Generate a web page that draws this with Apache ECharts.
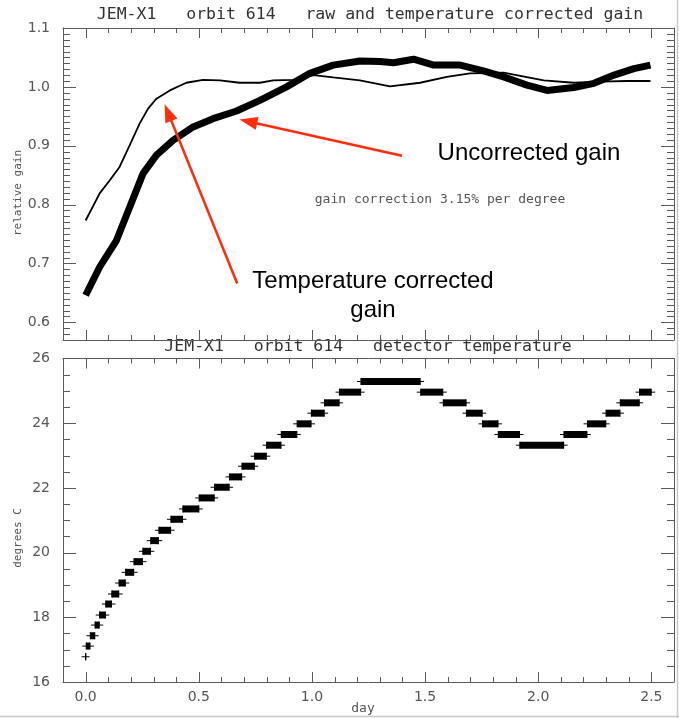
<!DOCTYPE html>
<html>
<head>
<meta charset="utf-8">
<title>JEM-X1 orbit 614</title>
<script src="https://cdn.jsdelivr.net/npm/echarts@6/dist/echarts.min.js"></script>
<style>
    html, body { margin: 0; padding: 0; background: #fff; }
    #main { width: 679px; height: 718px; }
</style>
</head>
<body>
<div id="main"></div>
<script>
// temperature corrected gain (thin line)
var corrDay  = [0.0, 0.062, 0.106, 0.150, 0.195, 0.239, 0.276, 0.313, 0.372, 0.445, 0.519, 0.593, 0.681, 0.770, 0.829, 0.917, 1.006, 1.094, 1.212, 1.345, 1.478, 1.596, 1.699, 1.847, 2.024, 2.157, 2.274, 2.392, 2.496];
var corrGain = [0.773, 0.819, 0.841, 0.864, 0.901, 0.938, 0.963, 0.980, 0.994, 1.007, 1.012, 1.011, 1.007, 1.007, 1.011, 1.012, 1.020, 1.016, 1.011, 1.001, 1.007, 1.017, 1.023, 1.024, 1.011, 1.007, 1.009, 1.010, 1.010];

// raw (uncorrected) gain (thick line)
var rawDay  = [0.0, 0.062, 0.136, 0.195, 0.254, 0.313, 0.386, 0.475, 0.563, 0.667, 0.770, 0.888, 0.991, 1.094, 1.212, 1.301, 1.360, 1.449, 1.538, 1.655, 1.758, 1.847, 1.950, 2.039, 2.157, 2.246, 2.335, 2.423, 2.496];
var rawGain = [0.646, 0.694, 0.739, 0.796, 0.853, 0.884, 0.909, 0.932, 0.946, 0.959, 0.977, 1.000, 1.023, 1.037, 1.044, 1.043, 1.041, 1.047, 1.037, 1.037, 1.027, 1.017, 1.003, 0.994, 0.999, 1.006, 1.020, 1.031, 1.037];

// detector temperature plateaus: start day, end day, degrees C
var tempStart = [0.000, 0.003, 0.021, 0.042, 0.062, 0.089, 0.116, 0.148, 0.177, 0.214, 0.253, 0.288, 0.324, 0.377, 0.430, 0.502, 0.570, 0.636, 0.691, 0.747, 0.800, 0.865, 0.935, 0.998, 1.056, 1.122, 1.217, 1.481, 1.581, 1.683, 1.754, 1.824, 1.919, 2.114, 2.218, 2.300, 2.363, 2.448];
var tempEnd   = [0.000, 0.019, 0.040, 0.060, 0.087, 0.114, 0.146, 0.175, 0.212, 0.251, 0.286, 0.321, 0.375, 0.428, 0.500, 0.568, 0.634, 0.689, 0.745, 0.798, 0.863, 0.933, 0.996, 1.054, 1.120, 1.215, 1.478, 1.578, 1.681, 1.752, 1.822, 1.917, 2.112, 2.215, 2.298, 2.361, 2.446, 2.499];
var tempLevel = [16.78, 17.11, 17.43, 17.76, 18.07, 18.41, 18.72, 19.06, 19.39, 19.72, 20.04, 20.37, 20.69, 21.03, 21.35, 21.69, 22.02, 22.34, 22.67, 22.98, 23.32, 23.65, 23.98, 24.31, 24.63, 24.96, 25.29, 24.96, 24.63, 24.31, 23.98, 23.65, 23.32, 23.65, 23.98, 24.31, 24.63, 24.96];

// tick labels
var dayTicks    = [0.0, 0.5, 1.0, 1.5, 2.0, 2.5];
var gainTicks   = [0.6, 0.7, 0.8, 0.9, 1.0, 1.1];
var degreeTicks = [16, 18, 20, 22, 24, 26];

// axis ranges
var dayMin = -0.1, dayMax = 2.6;
var gainMin = 0.57, gainMax = 1.1;
var degMin = 16, degMax = 26;

function steps(from, to, step, skip) {
    var out = [];
    var n = Math.round((to - from) / step);
    for (var i = 0; i <= n; i++) {
        var v = +(from + i * step).toFixed(4);
        if (skip.indexOf(v) < 0) out.push(v);
    }
    return out;
}
var dayMinor = steps(dayMin, dayMax, 0.1, dayTicks.concat([dayMin, dayMax]));
var gainMinor = steps(gainMin, gainMax, 0.01, gainTicks);
var degreeMinor = steps(degMin, degMax, 0.5, degreeTicks);

var frameColor = '#5a5a5a';
var labelColor = '#555';
var labelFont = 'DejaVu Sans';
var idlFont = 'DejaVu Sans Mono';

// frame side, optionally with tick labels
function frameAxis(gridIndex, pos, min, max, labels, digits, margin) {
    return {
        type: 'value', gridIndex: gridIndex, position: pos, min: min, max: max,
        splitLine: { show: false },
        axisLine: { show: true, onZero: false, lineStyle: { color: frameColor, width: 1 } },
        axisTick: { show: false },
        axisLabel: labels ? {
            show: true, customValues: labels, color: labelColor, fontFamily: labelFont, fontSize: 14, margin: margin,
            formatter: function (v) { return digits ? v.toFixed(digits) : String(v); }
        } : { show: false }
    };
}

var xAxes = [
    frameAxis(0, 'bottom', dayMin, dayMax),
    frameAxis(0, 'top', dayMin, dayMax),
    frameAxis(1, 'bottom', dayMin, dayMax, dayTicks, 1, 8),
    frameAxis(1, 'top', dayMin, dayMax)
];
var yAxes = [
    frameAxis(0, 'left', gainMin, gainMax, gainTicks, 1, 13),
    frameAxis(0, 'right', gainMin, gainMax),
    frameAxis(1, 'left', degMin, degMax, degreeTicks, 0, 13),
    frameAxis(1, 'right', degMin, degMax)
];

function zip(a, b) {
    return a.map(function (v, i) { return [v, b[i]]; });
}

// tick marks on all four sides: [value, 0 = day axis / 1 = value axis, length]
function tickRows(xMajor, xMinor, yMajor, yMinor) {
    return [].concat(
        xMajor.map(function (v) { return [v, 0, 10]; }),
        xMinor.map(function (v) { return [v, 0, 5]; }),
        yMajor.map(function (v) { return [v, 1, 13]; }),
        yMinor.map(function (v) { return [v, 1, 7]; })
    );
}
function tickRenderer(yMin, yMax) {
    return function (params, api) {
        var v = api.value(0), len = api.value(2);
        var lo = api.coord([dayMin, yMin]);
        var hi = api.coord([dayMax, yMax]);
        var left = lo[0], right = hi[0], bottom = lo[1], top = hi[1];
        if (api.value(1) === 0) {
            var x = Math.round(api.coord([v, yMin])[0]) + 0.5;
            return { type: 'group', children: [
                { type: 'line', shape: { x1: x, y1: bottom, x2: x, y2: bottom - len }, style: { stroke: frameColor, lineWidth: 1 } },
                { type: 'line', shape: { x1: x, y1: top, x2: x, y2: top + len }, style: { stroke: frameColor, lineWidth: 1 } }
            ] };
        }
        var y = Math.round(api.coord([dayMin, v])[1]) + 0.5;
        return { type: 'group', children: [
            { type: 'line', shape: { x1: left, y1: y, x2: left + len, y2: y }, style: { stroke: frameColor, lineWidth: 1 } },
            { type: 'line', shape: { x1: right, y1: y, x2: right - len, y2: y }, style: { stroke: frameColor, lineWidth: 1 } }
        ] };
    };
}

var plateaus = tempStart.map(function (s, i) { return [s, tempEnd[i], tempLevel[i]]; });

var red = '#ff2d0a';
var bigText = { fontFamily: 'Liberation Sans', fontSize: 24, fill: '#000' };

var myChart = echarts.init(document.getElementById('main'));
var option = {
    animation: false,
    grid: [
        { show: false, left: 63, top: 28, width: 611, height: 312 },
        { show: false, left: 63, top: 358.5, width: 611, height: 323.5 }
    ],
    xAxis: xAxes,
    yAxis: yAxes,
    graphic: [
        { type: 'text', x: 370, y: 15, style: { text: 'JEM-X1   orbit 614   raw and temperature corrected gain', fontFamily: idlFont, fontSize: 16.5, fill: '#333', align: 'center', verticalAlign: 'middle' } },
        { type: 'text', x: 368, y: 347, style: { text: 'JEM-X1   orbit 614   detector temperature', fontFamily: idlFont, fontSize: 16.5, fill: '#333', align: 'center', verticalAlign: 'middle' } },
        { type: 'text', x: 18, y: 193, rotation: Math.PI / 2, style: { text: 'relative gain', fontFamily: idlFont, fontSize: 11, fill: labelColor, align: 'center', verticalAlign: 'middle' } },
        { type: 'text', x: 18, y: 538, rotation: Math.PI / 2, style: { text: 'degrees C', fontFamily: idlFont, fontSize: 11, fill: labelColor, align: 'center', verticalAlign: 'middle' } },
        { type: 'text', x: 363, y: 709, style: { text: 'day', fontFamily: idlFont, fontSize: 13, fill: labelColor, align: 'center', verticalAlign: 'middle' } },
        { type: 'text', x: 440, y: 200, style: { text: 'gain correction 3.15% per degree', fontFamily: idlFont, fontSize: 13, fill: labelColor, align: 'center', verticalAlign: 'middle' } },
        { type: 'text', x: 529, y: 153, style: Object.assign({ text: 'Uncorrected gain', align: 'center', verticalAlign: 'middle' }, bigText) },
        { type: 'text', x: 373, y: 281, style: Object.assign({ text: 'Temperature corrected', align: 'center', verticalAlign: 'middle' }, bigText) },
        { type: 'text', x: 373, y: 310, style: Object.assign({ text: 'gain', align: 'center', verticalAlign: 'middle' }, bigText) },
        { type: 'line', shape: { x1: 0, y1: 716.5, x2: 679, y2: 716.5 }, style: { stroke: '#c8c8c8', lineWidth: 1.5 } },
        { type: 'line', shape: { x1: 677.5, y1: 0, x2: 677.5, y2: 718 }, style: { stroke: '#c8c8c8', lineWidth: 1.5 } }
    ],
    series: [
        {
            name: 'ticks-gain',
            type: 'custom',
            xAxisIndex: 0,
            yAxisIndex: 0,
            clip: false,
            z: 5,
            data: tickRows(dayTicks, dayMinor, gainTicks, gainMinor),
            renderItem: tickRenderer(gainMin, gainMax)
        },
        {
            name: 'ticks-temperature',
            type: 'custom',
            xAxisIndex: 2,
            yAxisIndex: 2,
            clip: false,
            z: 5,
            data: tickRows(dayTicks, dayMinor, degreeTicks, degreeMinor),
            renderItem: tickRenderer(degMin, degMax)
        },
        {
            name: 'corrected',
            type: 'line',
            xAxisIndex: 0,
            yAxisIndex: 0,
            showSymbol: false,
            data: zip(corrDay, corrGain),
            lineStyle: { color: '#000', width: 1.8 },
            markLine: {
                silent: true,
                symbol: ['none', 'triangle'],
                symbolSize: [13, 18],
                label: { show: false },
                lineStyle: { color: red, width: 2.5, type: 'solid' },
                data: [
                    [{ coord: [0.670, 0.666] }, { coord: [0.364, 0.9565] }],
                    [{ coord: [1.398, 0.883] }, { coord: [0.719, 0.9413] }]
                ]
            }
        },
        {
            name: 'raw',
            type: 'line',
            xAxisIndex: 0,
            yAxisIndex: 0,
            showSymbol: false,
            data: zip(rawDay, rawGain),
            lineStyle: { color: '#000', width: 7 },
            z: 1
        },
        {
            name: 'temperature',
            type: 'custom',
            xAxisIndex: 2,
            yAxisIndex: 2,
            data: plateaus,
            renderItem: function (params, api) {
                var p0 = api.coord([api.value(0), api.value(2)]);
                var p1 = api.coord([api.value(1), api.value(2)]);
                var h = 7;
                return {
                    type: 'group',
                    children: [
                        { type: 'line', shape: { x1: p0[0] - 4, y1: p0[1], x2: p1[0] + 4, y2: p1[1] }, style: { stroke: '#000', lineWidth: 1 } },
                        { type: 'line', shape: { x1: p0[0], y1: p0[1] - h / 2, x2: p0[0], y2: p0[1] + h / 2 }, style: { stroke: '#000', lineWidth: 1.2 } },
                        { type: 'line', shape: { x1: p1[0], y1: p1[1] - h / 2, x2: p1[0], y2: p1[1] + h / 2 }, style: { stroke: '#000', lineWidth: 1.2 } },
                        { type: 'rect', shape: { x: p0[0], y: p0[1] - h / 2, width: p1[0] - p0[0], height: h }, style: { fill: '#000' } }
                    ]
                };
            }
        }
    ]
};
option && myChart.setOption(option);
</script>
</body>
</html>
